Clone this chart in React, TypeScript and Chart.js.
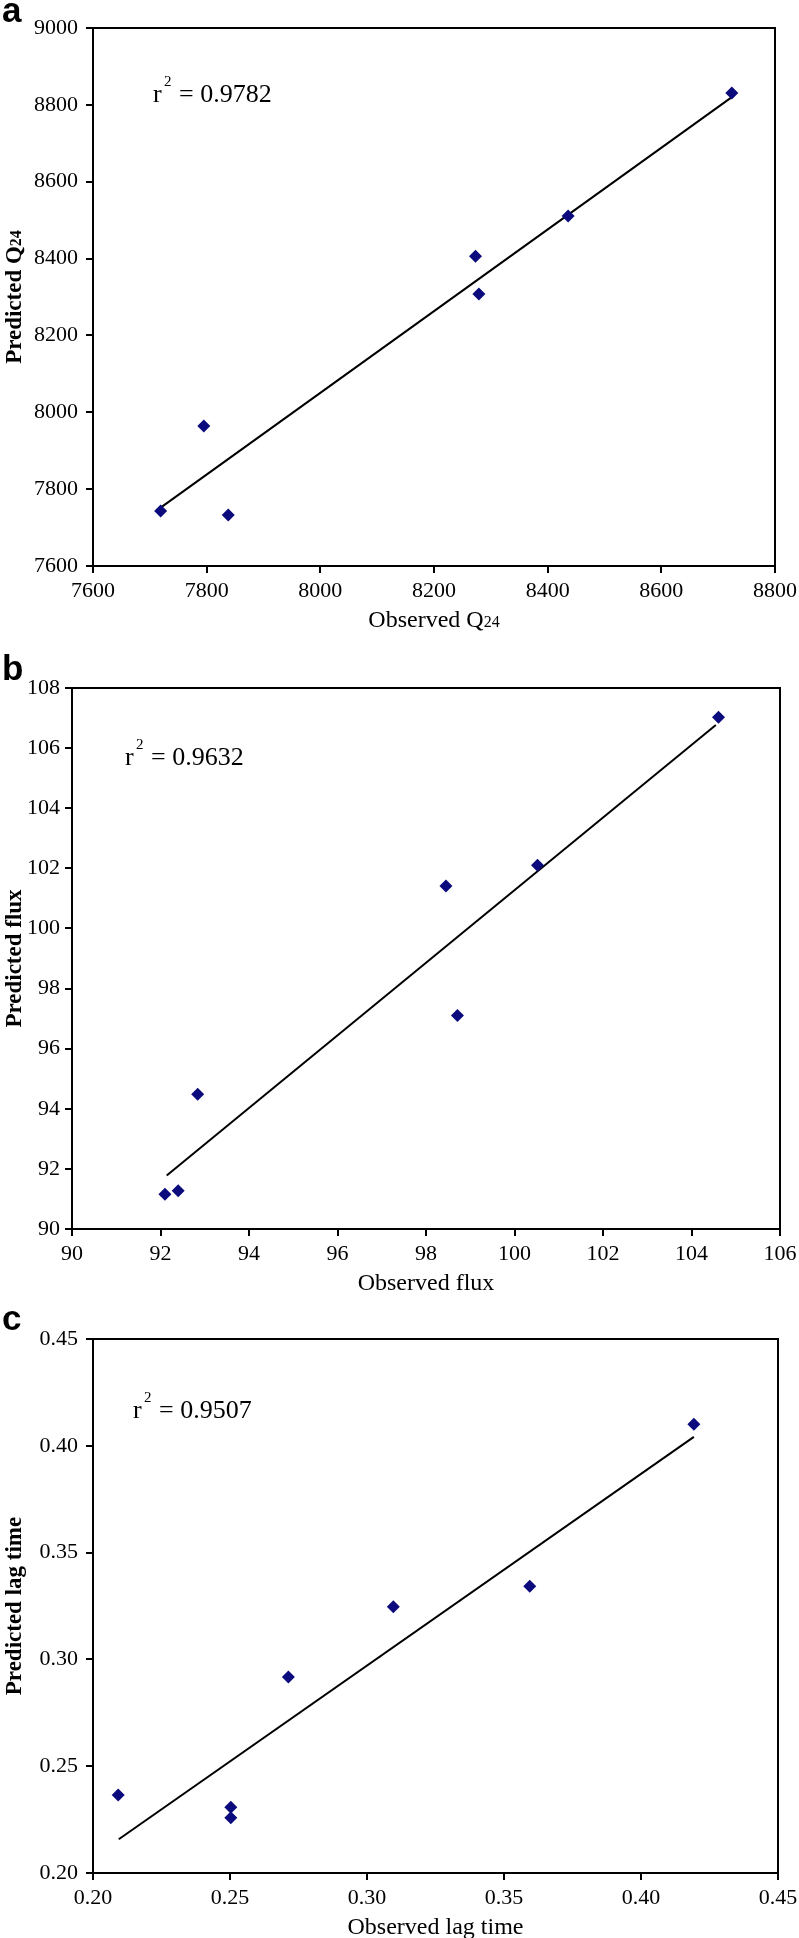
import React, { useEffect, useRef } from "react";
import { Chart, registerables } from "chart.js";

Chart.register(...registerables);

// ---------- data ----------
const obsQ24 = [7719, 7795, 7838, 8273, 8279, 8436, 8724];
const predQ24 = [7743, 7964, 7733, 8406, 8308, 8511, 8831];
const fitQ24X = [7719, 8724];
const fitQ24Y = [7752, 8820];
const ticksQ24X = [7600, 7800, 8000, 8200, 8400, 8600, 8800];
const ticksQ24Y = [7600, 7800, 8000, 8200, 8400, 8600, 8800, 9000];
const r2Q24 = "0.9782";

const obsFlux = [92.1, 92.4, 92.84, 98.45, 98.71, 100.52, 104.61];
const predFlux = [91.16, 91.27, 94.48, 101.41, 97.1, 102.1, 107.03];
const fitFluxX = [92.14, 104.55];
const fitFluxY = [91.78, 106.77];
const ticksFluxX = [90, 92, 94, 96, 98, 100, 102, 104, 106];
const ticksFluxY = [90, 92, 94, 96, 98, 100, 102, 104, 106, 108];
const r2Flux = "0.9632";

const obsLag = [0.2092, 0.2503, 0.2503, 0.2713, 0.3096, 0.3594, 0.4193];
const predLag = [0.2365, 0.2308, 0.2259, 0.2918, 0.3247, 0.3342, 0.4101];
const fitLagX = [0.2094, 0.4193];
const fitLagY = [0.2158, 0.4042];
const ticksLagX = [0.2, 0.25, 0.3, 0.35, 0.4, 0.45];
const ticksLagY = [0.2, 0.25, 0.3, 0.35, 0.4, 0.45];
const r2Lag = "0.9507";

// ---------- styling ----------
const SERIF = '"Liberation Serif", "Times New Roman", serif';
const SANS = '"Liberation Sans", Arial, sans-serif';
const W = 799;
const MARK = "#0b0b7d";

type Part = { t: string; f: string };

type Panel = {
  letter: string;
  r2: string;
  obs: number[];
  pred: number[];
  fitX: number[];
  fitY: number[];
  xTicks: number[];
  yTicks: number[];
  decimals: number;
  xTitle: Part[];
  yTitle: Part[];
  top: number;
  height: number;
  area: { left: number; right: number; top: number; bottom: number };
  yPad: number;
  letterBase: number;
  r2Off: { dx: number; dy: number };
};

const panels: Panel[] = [
  {
    letter: "a",
    r2: r2Q24,
    obs: obsQ24,
    pred: predQ24,
    fitX: fitQ24X,
    fitY: fitQ24Y,
    xTicks: ticksQ24X,
    yTicks: ticksQ24Y,
    decimals: 0,
    xTitle: [
      { t: "Observed Q", f: `24px ${SERIF}` },
      { t: "24", f: `16px ${SERIF}` },
    ],
    yTitle: [
      { t: "Predicted Q", f: `bold 23px ${SERIF}` },
      { t: "24", f: `bold 16px ${SERIF}` },
    ],
    top: 0,
    height: 640,
    area: { left: 93, right: 775, top: 28, bottom: 566 },
    yPad: 8,
    letterBase: 22,
    r2Off: { dx: 60, dy: 74 },
  },
  {
    letter: "b",
    r2: r2Flux,
    obs: obsFlux,
    pred: predFlux,
    fitX: fitFluxX,
    fitY: fitFluxY,
    xTicks: ticksFluxX,
    yTicks: ticksFluxY,
    decimals: 0,
    xTitle: [{ t: "Observed flux", f: `24px ${SERIF}` }],
    yTitle: [{ t: "Predicted flux", f: `bold 23px ${SERIF}` }],
    top: 640,
    height: 650,
    area: { left: 72, right: 780, top: 48, bottom: 589 },
    yPad: 5,
    letterBase: 40,
    r2Off: { dx: 53, dy: 77 },
  },
  {
    letter: "c",
    r2: r2Lag,
    obs: obsLag,
    pred: predLag,
    fitX: fitLagX,
    fitY: fitLagY,
    xTicks: ticksLagX,
    yTicks: ticksLagY,
    decimals: 2,
    xTitle: [{ t: "Observed lag time", f: `24px ${SERIF}` }],
    yTitle: [{ t: "Predicted lag time", f: `bold 23px ${SERIF}` }],
    top: 1290,
    height: 648,
    area: { left: 93, right: 778, top: 49, bottom: 583 },
    yPad: 8,
    letterBase: 40,
    r2Off: { dx: 40, dy: 79 },
  },
];

function drawParts(ctx: CanvasRenderingContext2D, parts: Part[], cx: number, base: number) {
  let total = 0;
  for (const p of parts) {
    ctx.font = p.f;
    total += ctx.measureText(p.t).width;
  }
  let x = cx - total / 2;
  ctx.textAlign = "left";
  ctx.textBaseline = "alphabetic";
  for (const p of parts) {
    ctx.font = p.f;
    ctx.fillText(p.t, x, base);
    x += ctx.measureText(p.t).width;
  }
}

function makeDecor(p: Panel) {
  return {
    id: "decor",
    afterDraw(chart: any) {
      const ctx: CanvasRenderingContext2D = chart.ctx;
      const a = chart.chartArea;
      ctx.save();
      // frame (top and right)
      ctx.strokeStyle = "#000";
      ctx.lineWidth = 2;
      ctx.beginPath();
      ctx.moveTo(a.left, a.top);
      ctx.lineTo(a.right, a.top);
      ctx.lineTo(a.right, a.bottom);
      ctx.stroke();
      ctx.fillStyle = "#000";
      // panel letter
      ctx.font = `bold 35px ${SANS}`;
      ctx.textAlign = "left";
      ctx.textBaseline = "alphabetic";
      ctx.fillText(p.letter, 2, p.letterBase);
      // r^2 annotation
      const rx = a.left + p.r2Off.dx;
      const ry = a.top + p.r2Off.dy;
      ctx.font = `26px ${SERIF}`;
      ctx.fillText("r", rx, ry);
      ctx.font = `15px ${SERIF}`;
      ctx.fillText("2", rx + 11, ry - 16);
      ctx.font = `26px ${SERIF}`;
      ctx.fillText("= " + p.r2, rx + 26, ry);
      // x title
      drawParts(ctx, p.xTitle, (a.left + a.right) / 2, a.bottom + 61);
      // y title
      ctx.save();
      ctx.translate(21, (a.top + a.bottom) / 2);
      ctx.rotate(-Math.PI / 2);
      drawParts(ctx, p.yTitle, 0, 0);
      ctx.restore();
      ctx.restore();
    },
  };
}

function PanelChart({ p }: { p: Panel }) {
  const ref = useRef<HTMLCanvasElement | null>(null);
  useEffect(() => {
    if (!ref.current) return;
    const X_H = 40;
    const pts = p.obs.map((x, i) => ({ x, y: p.pred[i] }));
    const fit = p.fitX.map((x, i) => ({ x, y: p.fitY[i] }));
    const fmt = (v: any) => Number(v).toFixed(p.decimals);
    const tickFont = { family: SERIF, size: 22 };
    const chart = new Chart(ref.current, {
      type: "scatter",
      data: {
        datasets: [
          {
            data: pts,
            pointStyle: "rectRot",
            pointRadius: 6.5,
            pointBackgroundColor: MARK,
            pointBorderWidth: 0,
            borderWidth: 0,
            showLine: false,
            order: 0,
          },
          {
            data: fit,
            showLine: true,
            borderColor: "#000",
            borderWidth: 2,
            pointRadius: 0,
            order: 1,
          },
        ],
      } as any,
      options: {
        animation: false,
        responsive: false,
        devicePixelRatio: 1,
        events: [],
        layout: {
          padding: {
            left: 0,
            right: W - p.area.right,
            top: p.area.top,
            bottom: p.height - p.area.bottom - X_H,
          },
        },
        plugins: { legend: { display: false }, tooltip: { enabled: false } },
        scales: {
          x: {
            type: "linear",
            min: p.xTicks[0],
            max: p.xTicks[p.xTicks.length - 1],
            afterBuildTicks: (s: any) => {
              s.ticks = p.xTicks.map((v) => ({ value: v }));
            },
            afterFit: (s: any) => {
              s.height = X_H;
              s.paddingLeft = 0;
              s.paddingRight = 0;
            },
            grid: {
              drawOnChartArea: false,
              drawTicks: true,
              tickLength: 7,
              color: "#000",
              lineWidth: 2,
            },
            border: { display: true, color: "#000", width: 2 },
            ticks: {
              font: tickFont,
              color: "#000",
              padding: 5,
              maxRotation: 0,
              autoSkip: false,
              callback: (v: any) => fmt(v),
            },
          },
          y: {
            type: "linear",
            min: p.yTicks[0],
            max: p.yTicks[p.yTicks.length - 1],
            afterBuildTicks: (s: any) => {
              s.ticks = p.yTicks.map((v) => ({ value: v }));
            },
            afterFit: (s: any) => {
              s.width = p.area.left;
              s.paddingTop = 0;
              s.paddingBottom = 0;
            },
            grid: {
              drawOnChartArea: false,
              drawTicks: true,
              tickLength: 7,
              color: "#000",
              lineWidth: 2,
            },
            border: { display: true, color: "#000", width: 2 },
            ticks: {
              font: tickFont,
              color: "#000",
              padding: p.yPad,
              autoSkip: false,
              callback: (v: any) => fmt(v),
            },
          },
        },
      } as any,
      plugins: [makeDecor(p)],
    });
    return () => chart.destroy();
  }, [p]);
  return (
    <canvas
      ref={ref}
      width={W}
      height={p.height}
      style={{ position: "absolute", left: 0, top: p.top, display: "block" }}
    />
  );
}

export default function App() {
  return (
    <div style={{ position: "absolute", left: 0, top: 0, width: W, height: 1938, background: "#fff" }}>
      {panels.map((p) => (
        <PanelChart key={p.letter} p={p} />
      ))}
    </div>
  );
}
